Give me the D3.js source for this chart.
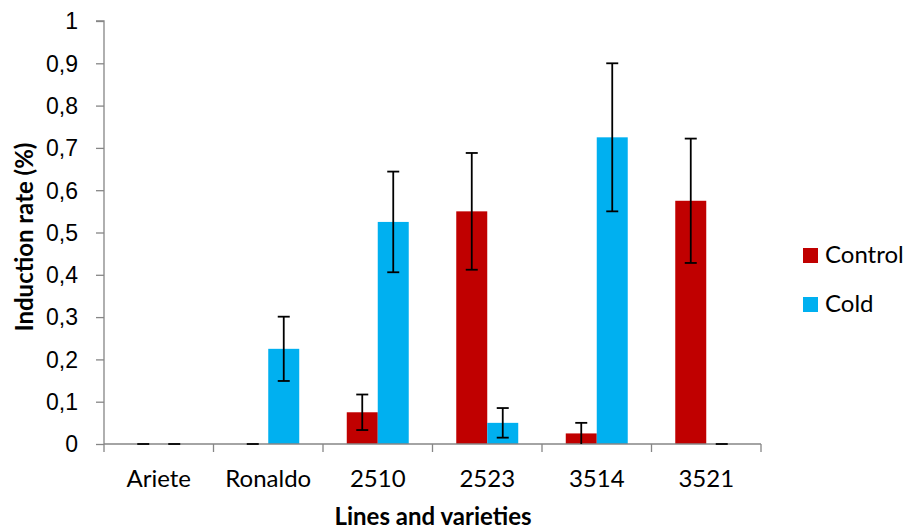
<!DOCTYPE html>
<html>
<head>
<meta charset="utf-8">
<script src="https://cdn.jsdelivr.net/npm/d3@7"></script>
<style>
  html, body { margin: 0; padding: 0; background: #fff; }
  svg { display: block; font-family: Lato, "Open Sans", sans-serif; }
</style>
</head>
<body>
<svg id="chart" width="906" height="529"></svg>
<script>
// Induction rate by line/variety, control vs cold treatment
const categories = ["Ariete", "Ronaldo", "2510", "2523", "3514", "3521"];
const seriesNames = ["Control", "Cold"];
const controlValues = [0, 0, 0.075, 0.55, 0.025, 0.575];
const coldValues = [0, 0.225, 0.525, 0.05, 0.725, 0];
const controlErrors = [0, 0, 0.042, 0.138, 0.025, 0.147];
const coldErrors = [0, 0.076, 0.119, 0.035, 0.175, 0];
const yTicks = [0, 0.1, 0.2, 0.3, 0.4, 0.5, 0.6, 0.7, 0.8, 0.9, 1];
const colors = ["#C00000", "#00B0F0"];

(function () {
  const svg = d3.select("#chart");
  const plotLeft = 104, plotRight = 761, plotTop = 21, plotBottom = 444;

  const x = d3.scaleBand().domain(categories).range([plotLeft, plotRight]).padding(0);
  const y = d3.scaleLinear().domain([0, 1]).range([plotBottom, plotTop]);
  const barW = x.bandwidth() * 0.283;

  const values = [controlValues, coldValues];
  const errors = [controlErrors, coldErrors];

  // Bars
  seriesNames.forEach((name, s) => {
    svg.append("g").selectAll("rect").data(categories).join("rect")
      .attr("x", (d) => x(d) + x.bandwidth() / 2 - barW + s * barW)
      .attr("y", (d, i) => y(values[s][i]))
      .attr("width", barW)
      .attr("height", (d, i) => y(0) - y(values[s][i]))
      .attr("fill", colors[s]);
  });

  // Axes
  const axisColor = "#868686";
  const yAxis = svg.append("g").attr("transform", `translate(${plotLeft},0)`)
    .call(d3.axisLeft(y).tickValues(yTicks).tickSize(8).tickPadding(18)
      .tickFormat((d) => d === 0 || d === 1 ? String(d) : d3.format(".1f")(d).replace(".", ",")));
  yAxis.select(".domain").attr("stroke", axisColor).attr("stroke-width", 1.3).attr("d", `M-8,${plotTop}H0V${plotBottom}`);
  yAxis.selectAll(".tick line").attr("stroke", axisColor).attr("stroke-width", 1.3);
  yAxis.selectAll(".tick text").attr("fill", "#000").attr("font-size", 23).attr("dy", "0.34em");

  const xAxis = svg.append("g").attr("transform", `translate(0,${plotBottom})`);
  xAxis.append("line").attr("x1", plotLeft).attr("x2", plotRight).attr("stroke", axisColor).attr("stroke-width", 1.3);
  const bounds = categories.map((c) => x(c)).concat([x(categories[categories.length - 1]) + x.bandwidth()]);
  xAxis.selectAll("line.tk").data(bounds).join("line").attr("class", "tk")
    .attr("x1", (d) => d).attr("x2", (d) => d).attr("y1", 0).attr("y2", 8)
    .attr("stroke", axisColor).attr("stroke-width", 1.3);
  xAxis.selectAll("text").data(categories).join("text")
    .attr("x", (d) => x(d) + x.bandwidth() / 2).attr("y", 43)
    .attr("text-anchor", "middle").attr("font-size", 24).attr("fill", "#000")
    .text((d) => d);

  // Error bars
  seriesNames.forEach((name, s) => {
    const g = svg.append("g").attr("stroke", "#000").attr("stroke-width", 1.8);
    categories.forEach((c, i) => {
      const cx = x(c) + x.bandwidth() / 2 - barW / 2 + s * barW;
      const v = values[s][i], e = errors[s][i];
      const hi = y(v + e), lo = y(Math.max(0, v - e));
      if (e > 0) g.append("line").attr("x1", cx).attr("x2", cx).attr("y1", hi).attr("y2", lo);
      g.append("line").attr("x1", cx - 6).attr("x2", cx + 6).attr("y1", hi).attr("y2", hi);
      if (e > 0 && v - e > 0) g.append("line").attr("x1", cx - 6).attr("x2", cx + 6).attr("y1", lo).attr("y2", lo);
    });
  });

  // Axis titles
  svg.append("text").attr("x", 433).attr("y", 525)
    .attr("text-anchor", "middle").attr("font-size", 24).attr("font-weight", "bold")
    .text("Lines and varieties");
  svg.append("text").attr("transform", "translate(33,237) rotate(-90)")
    .attr("text-anchor", "middle").attr("font-size", 24).attr("font-weight", "bold")
    .text("Induction rate (%)");

  // Legend
  const legend = svg.append("g");
  seriesNames.forEach((name, s) => {
    const ly = 248 + s * 49;
    legend.append("rect").attr("x", 803).attr("y", ly).attr("width", 15).attr("height", 15).attr("fill", colors[s]);
    legend.append("text").attr("x", 825).attr("y", ly + 15).attr("font-size", 24).attr("fill", "#000").text(name);
  });
})();
</script>
</body>
</html>
